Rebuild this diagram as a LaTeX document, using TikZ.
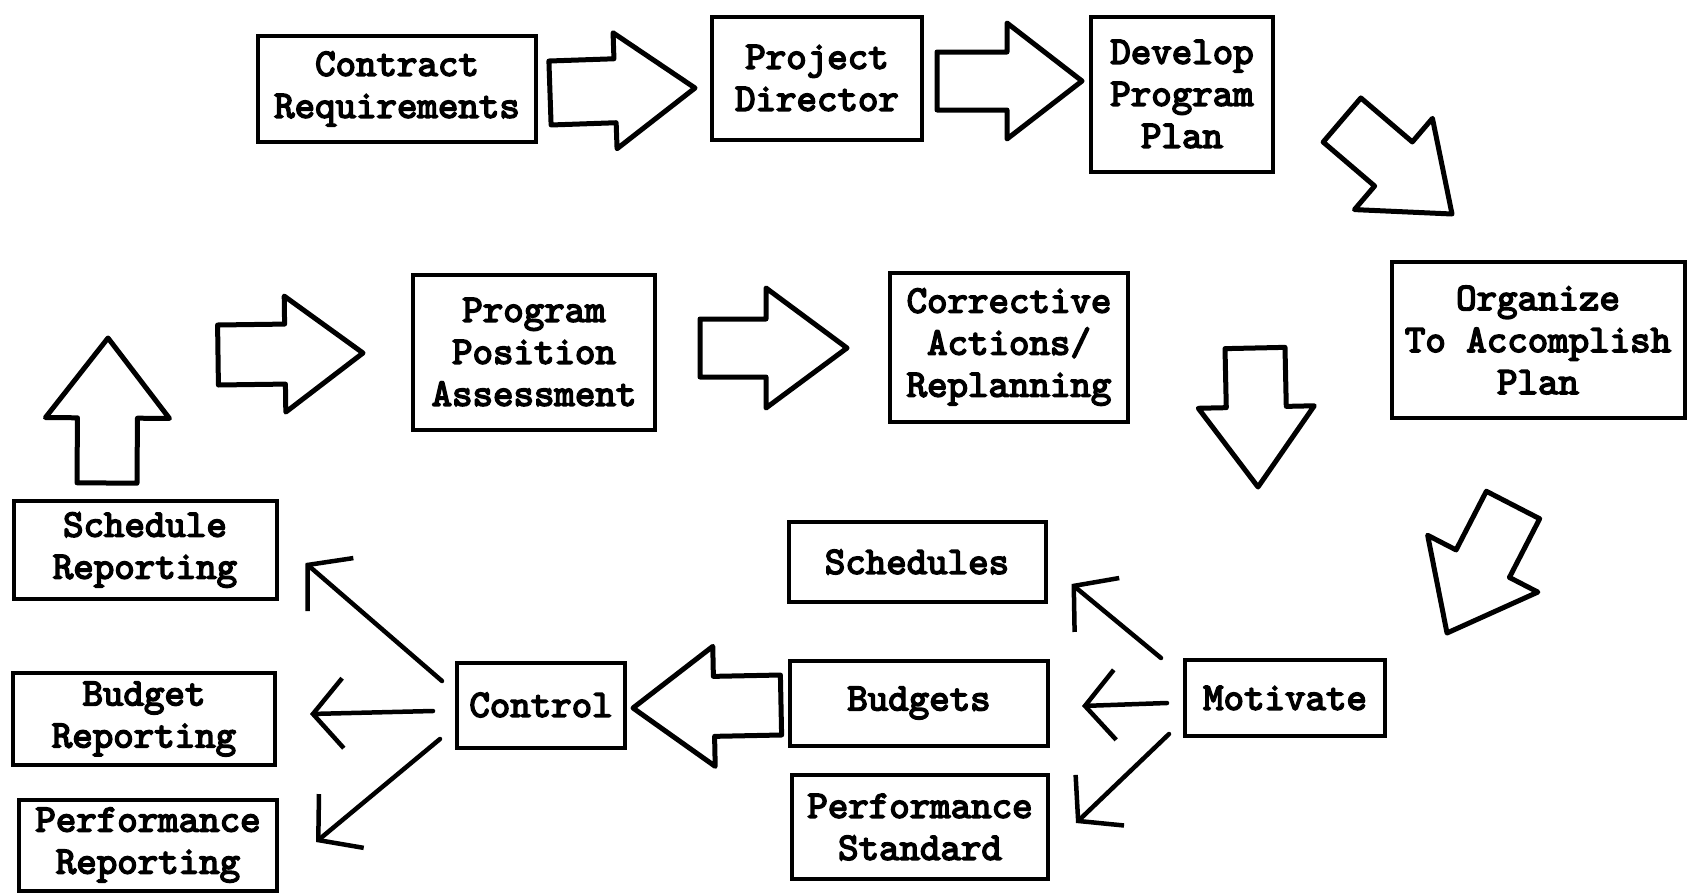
\documentclass[tikz,border=0pt]{standalone}
\usepackage{fontspec}
\newfontfamily\typewriter{lmmono10-regular.otf}[FakeBold=4]
\usetikzlibrary{calc,arrows.meta}
\tikzset{
  box/.style={draw, line width=4pt, inner sep=0pt, align=center,
    font=\typewriter\bfseries\fontsize{39}{42}\selectfont},
  fatarrow/.style={draw, line width=5pt, line join=round},
  thinarrow/.style={line width=4.5pt, line cap=round,
    -{Straight Barb[length=30pt,width=70pt,line width=4.5pt]}},
}
% block arrow: tail centre, tip, shaft half-width, head half-width, head length
\newcommand\blockarrow[5]{%
  \coordinate (ba-h) at ($(#2)!#5!(#1)$);
  \draw[fatarrow]
    ($(#1)!#3!90:(#2)$) -- ($(ba-h)!#3!-90:(#1)$) -- ($(ba-h)!#4!-90:(#1)$) -- (#2)
    -- ($(ba-h)!#4!90:(#1)$) -- ($(ba-h)!#3!90:(#1)$) -- ($(#1)!#3!-90:(#2)$) -- cycle;
}
\begin{document}
\begin{tikzpicture}[x=1pt,y=-1pt]
\useasboundingbox (0,0) rectangle (1697,894);

% planning chain
\node[box, minimum width=278pt, minimum height=106pt] (cr) at (397,89) {Contract\\Requirements};
\node[box, minimum width=210pt, minimum height=123pt] (pd) at (817,78) {Project\\Director};
\node[box, minimum width=182pt, minimum height=155pt] (dp) at (1182,94) {Develop\\Program\\Plan};
\node[box, minimum width=293pt, minimum height=156pt] (or) at (1538,340) {Organize\\To Accomplish\\Plan};

% assessment row
\node[box, minimum width=242pt, minimum height=155pt] (pp) at (534,352) {Program\\Position\\Assessment};
\node[box, minimum width=238pt, minimum height=149pt] (ca) at (1009,347) {Corrective\\Actions/\\Replanning};

% reporting column
\node[box, minimum width=263pt, minimum height=98pt] (sr) at (145,550) {Schedule\\Reporting};
\node[box, minimum width=262pt, minimum height=92pt] (br) at (144,719) {Budget\\Reporting};
\node[box, minimum width=258pt, minimum height=91pt] (pr) at (148,845) {Performance\\Reporting};
\node[box, minimum width=168pt, minimum height=85pt] (ct) at (541,705) {Control};

% motivation group
\node[box, minimum width=257pt, minimum height=80pt] (sc) at (917,562) {Schedules};
\node[box, minimum width=258pt, minimum height=85pt] (bu) at (919,703) {Budgets};
\node[box, minimum width=256pt, minimum height=104pt] (ps) at (920,827) {Performance\\Standard};
\node[box, minimum width=200pt, minimum height=76pt] (mo) at (1285,698) {Motivate};

% block arrows
\coordinate (a1s) at (550,93);   \coordinate (a1e) at (695,88);
\coordinate (a2s) at (937,81);   \coordinate (a2e) at (1082,81);
\coordinate (a3s) at (1342,120); \coordinate (a3e) at (1452,214);
\coordinate (a4s) at (1513,505); \coordinate (a4e) at (1447,633);
\coordinate (a5s) at (218,355);  \coordinate (a5e) at (363,353);
\coordinate (a6s) at (700,348);  \coordinate (a6e) at (847,348);
\coordinate (a7s) at (1255,348); \coordinate (a7e) at (1258,487);
\coordinate (a8s) at (107,483);  \coordinate (a8e) at (108,338);
\coordinate (a9s) at (781,705);  \coordinate (a9e) at (633,708);
\blockarrow{a1s}{a1e}{32pt}{58pt}{80pt}
\blockarrow{a2s}{a2e}{29pt}{58pt}{75pt}
\blockarrow{a3s}{a3e}{29pt}{60pt}{77pt}
\blockarrow{a4s}{a4e}{30pt}{62pt}{78pt}
\blockarrow{a5s}{a5e}{30pt}{58pt}{78pt}
\blockarrow{a6s}{a6e}{29pt}{60pt}{81pt}
\blockarrow{a7s}{a7e}{30pt}{58pt}{80pt}
\blockarrow{a8s}{a8e}{30pt}{62pt}{80pt}
\blockarrow{a9s}{a9e}{30pt}{60pt}{81pt}

% control outputs
\draw[thinarrow] ($(ct.west)+(-13,-24)$) -- ($(sr.south east)+(27,-38)$);
\draw[thinarrow] ($(ct.west)+(-22,6)$) -- ($(br.east)+(33,-5)$);
\draw[thinarrow] ($(ct.west)+(-15,34)$) -- ($(pr.east)+(37,-3)$);

% motivation outputs
\draw[thinarrow] ($(mo.west)+(-22,-40)$) -- ($(sc.east)+(24,22)$);
\draw[thinarrow] ($(mo.west)+(-16,5)$) -- ($(bu.east)+(32,3)$);
\draw[thinarrow] ($(mo.west)+(-14,36)$) -- ($(ps.east)+(26,-4)$);
\end{tikzpicture}
\end{document}
